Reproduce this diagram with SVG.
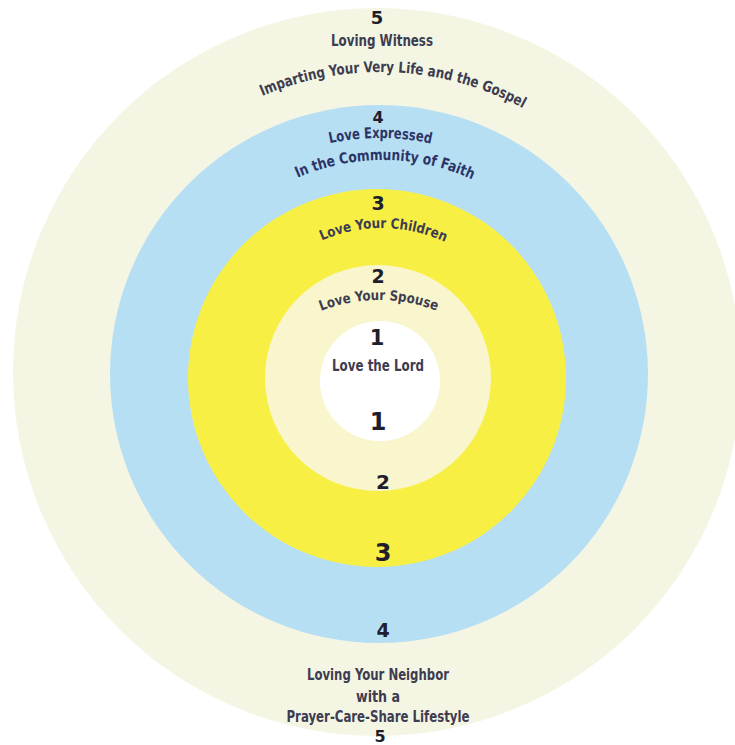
<svg xmlns="http://www.w3.org/2000/svg" xmlns:xlink="http://www.w3.org/1999/xlink" width="735" height="745" viewBox="0 0 735 745">
<style>
.lbl{font-family:"DejaVu Sans Condensed","DejaVu Sans","Liberation Sans",sans-serif;font-stretch:condensed;font-weight:bold;fill:#3d3c50}
.blu{fill:#2c3466}
.num{font-family:"DejaVu Sans","Liberation Sans",sans-serif;font-weight:bold;fill:#1f1e2c;text-anchor:middle}
</style>
<defs>
<path id="pImp" d="M80,372 A300,300 0 0 1 680,372"/>
<path id="pExp" d="M144,374 A236,236 0 0 1 616,374"/>
<path id="pCom" d="M169,374 A214,214 0 0 1 597,374"/>
<path id="pChi" d="M232,378 A150,150 0 0 1 532,378"/>
<path id="pSpo" d="M219,460 A160,160 0 0 1 539,460"/>
</defs>
<rect width="735" height="745" fill="#ffffff"/>
<g id="ring5">
<circle cx="377" cy="372" r="364" fill="#f4f6e3"/>
<text class="num" x="377" y="24" font-size="18">5</text>
<text class="lbl" x="382" y="46" font-size="16" text-anchor="middle" textLength="102" lengthAdjust="spacingAndGlyphs">Loving Witness</text>
<text class="lbl" font-size="15"><textPath href="#pImp" xlink:href="#pImp" startOffset="485" text-anchor="middle" textLength="270" lengthAdjust="spacingAndGlyphs">Imparting Your Very Life and the Gospel</textPath></text>
<text class="lbl" x="378" y="680" font-size="16" text-anchor="middle" textLength="142" lengthAdjust="spacingAndGlyphs">Loving Your Neighbor</text>
<text class="lbl" x="378" y="702" font-size="16" text-anchor="middle" textLength="44" lengthAdjust="spacingAndGlyphs">with a</text>
<text class="lbl" x="378" y="722" font-size="16" text-anchor="middle" textLength="183" lengthAdjust="spacingAndGlyphs">Prayer-Care-Share Lifestyle</text>
<text class="num" x="380" y="742" font-size="16">5</text>
</g>
<g id="ring4">
<circle cx="379" cy="374" r="269" fill="#b6dff4"/>
<text class="num" x="378" y="123" font-size="16">4</text>
<text class="lbl blu" font-size="15"><textPath href="#pExp" xlink:href="#pExp" startOffset="371" text-anchor="middle" textLength="102" lengthAdjust="spacingAndGlyphs">Love Expressed</textPath></text>
<text class="lbl blu" font-size="15"><textPath href="#pCom" xlink:href="#pCom" startOffset="338" text-anchor="middle" textLength="180" lengthAdjust="spacingAndGlyphs">In the Community of Faith</textPath></text>
<text class="num" x="383" y="637" font-size="19">4</text>
</g>
<g id="ring3">
<circle cx="377" cy="378" r="189" fill="#f8ef45"/>
<text class="num" x="378" y="210" font-size="19">3</text>
<text class="lbl" font-size="14"><textPath href="#pChi" xlink:href="#pChi" startOffset="237" text-anchor="middle" textLength="127" lengthAdjust="spacingAndGlyphs">Love Your Children</textPath></text>
<text class="num" x="383" y="561" font-size="24">3</text>
</g>
<g id="ring2">
<circle cx="378" cy="378" r="113" fill="#f9f6cd"/>
<text class="num" x="378" y="283" font-size="19">2</text>
<text class="lbl" font-size="14"><textPath href="#pSpo" xlink:href="#pSpo" startOffset="251" text-anchor="middle" textLength="118" lengthAdjust="spacingAndGlyphs">Love Your Spouse</textPath></text>
<text class="num" x="383" y="489" font-size="20">2</text>
</g>
<g id="ring1">
<circle cx="380" cy="381" r="60" fill="#ffffff"/>
<text class="num" x="377" y="345" font-size="21">1</text>
<text class="lbl" x="378" y="371" font-size="16" text-anchor="middle" textLength="92" lengthAdjust="spacingAndGlyphs">Love the Lord</text>
<text class="num" x="378" y="430" font-size="24">1</text>
</g>
</svg>
